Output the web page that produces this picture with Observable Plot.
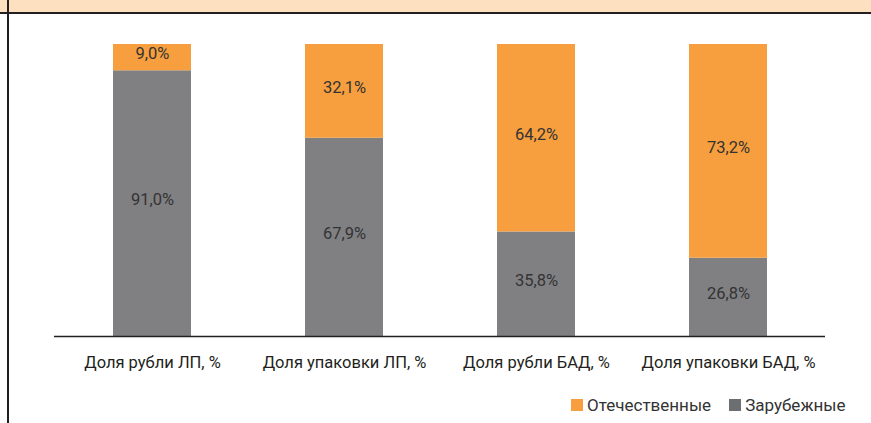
<!DOCTYPE html>
<html>
<head>
<meta charset="utf-8">
<script src="https://cdn.jsdelivr.net/npm/d3@7"></script>
<script src="https://cdn.jsdelivr.net/npm/@observablehq/plot@0.6"></script>
<style>
  body { margin: 0; background: #fff; }
  #wrap { position: relative; width: 871px; height: 423px; overflow: hidden; font-family: Roboto, "Noto Sans", sans-serif; }
  #band { position: absolute; left: 0; top: 0; width: 871px; height: 12px; background: #fde0bf; border-bottom: 2px solid #231f20; }
  #vline { position: absolute; left: 7px; top: 0; width: 2px; height: 423px; background: #231f20; }
  #chart { position: absolute; left: 0; top: 0; }
  #legend { position: absolute; top: 395px; left: 571px; display: flex; align-items: center; font-size: 17px; color: #333; }
  .sw { width: 12px; height: 12px; display: inline-block; margin-right: 4px; }
  .item { display: flex; align-items: center; margin-right: 18px; }
</style>
</head>
<body>
<div id="wrap">
  <div id="chart"></div>
  <div id="band"></div>
  <div id="vline"></div>
  <div id="legend"></div>
</div>
<script>
const categories = ["Доля рубли ЛП, %", "Доля упаковки ЛП, %", "Доля рубли БАД, %", "Доля упаковки БАД, %"];
const domestic = [9.0, 32.1, 64.2, 73.2];
const foreign = [91.0, 67.9, 35.8, 26.8];
const seriesNames = ["Отечественные", "Зарубежные"];
const colors = ["#f79f3e", "#808083"];
const legendColors = ["#f79f3e", "#6d6e71"];

const rows = [];
categories.forEach((c, i) => {
  rows.push({cat: c, series: seriesNames[1], y1: 0, y2: foreign[i], v: foreign[i]});
  rows.push({cat: c, series: seriesNames[0], y1: foreign[i], y2: foreign[i] + domestic[i], v: domestic[i]});
});
const fmt = v => v.toFixed(1).replace(".", ",") + "%";

const plot = Plot.plot({
  width: 871,
  height: 385,
  marginTop: 44,
  marginBottom: 49,
  marginLeft: 54,
  marginRight: 46,
  style: {fontFamily: "Roboto, 'Noto Sans', sans-serif", color: "#231f20", background: "transparent"},
  x: {domain: categories, paddingInner: 0.595, paddingOuter: 0.2975, label: null, tickSize: 0, tickPadding: 20},
  y: {domain: [0, 100], axis: null},
  color: {domain: seriesNames, range: colors},
  marks: [
    Plot.rectY(rows, {x: "cat", y1: "y1", y2: "y2", fill: "series"}),
    Plot.text(rows, {x: "cat", y: d => (d.y1 + d.y2) / 2, text: d => fmt(d.v), fill: "#333", fontSize: 16.5, dy: -4}),
    Plot.ruleY([0], {stroke: "#231f20", strokeWidth: 1.5})
  ]
});
plot.querySelectorAll("g[aria-label='x-axis tick label']").forEach(g => { g.setAttribute("font-size", "16.5"); g.setAttribute("fill", "#231f20"); });
document.getElementById("chart").appendChild(plot);

const leg = document.getElementById("legend");
seriesNames.forEach((s, i) => {
  const it = document.createElement("div");
  it.className = "item";
  it.innerHTML = `<span class="sw" style="background:${legendColors[i]}"></span><span>${s}</span>`;
  leg.appendChild(it);
});
</script>
</body>
</html>
